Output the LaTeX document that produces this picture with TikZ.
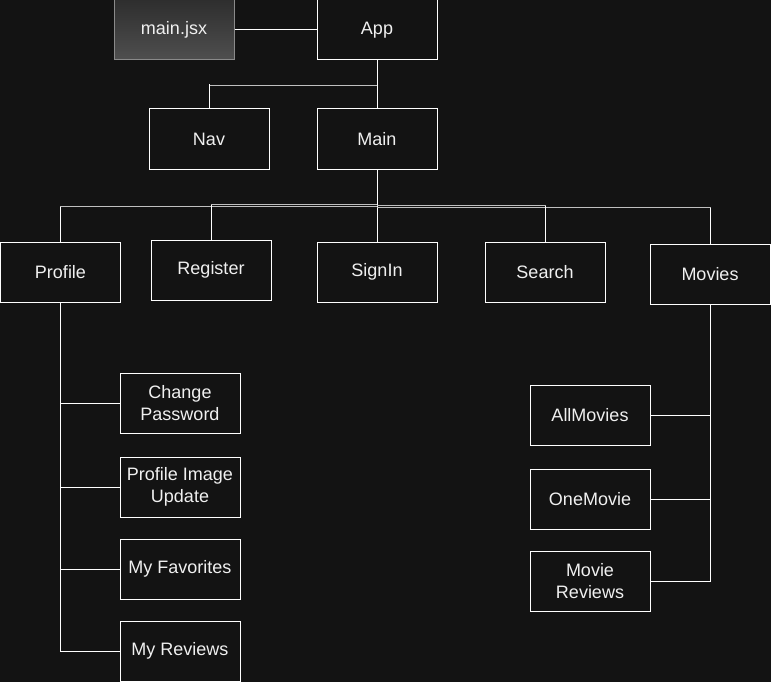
\documentclass[tikz,border=0pt]{standalone}
\usepackage{fontspec}
\setmainfont{Liberation Sans}
\definecolor{bg}{HTML}{131313}
\definecolor{jsxtop}{HTML}{2E2E2E}
\definecolor{jsxbot}{HTML}{4F4F4F}
\definecolor{jsxline}{HTML}{8A8A8A}
\definecolor{txt}{HTML}{F0F0F0}
\begin{document}
\begin{tikzpicture}[x=1pt,y=-1pt,
  box/.style={draw=white, fill=bg, line width=1pt, minimum width=120pt, minimum height=60pt,
    inner sep=0pt, align=center, text=txt, font=\fontsize{18}{21.6}\selectfont},
  jsxbox/.style={box, draw=jsxline, top color=jsxtop, bottom color=jsxbot},
  link/.style={draw=white, line width=1pt},
  hlink/.style={draw=white!75!black, line width=1pt}]
\fill[bg] (0,0) rectangle (771,682);
\useasboundingbox (0,0) rectangle (771,682);

\node[jsxbox] (mainjsx) at (174,30) {main.jsx};
\node[box] (app) at (377,30) {App};
\node[box] (nav) at (209,139) {Nav};
\node[box] (main) at (377,139) {Main};
\node[box] (profile) at (60.5,272) {Profile};
\node[box] (register) at (211,270) {Register};
\node[box] (signin) at (377,272) {SignIn};
\node[box] (search) at (545,272) {Search};
\node[box] (movies) at (710,274) {Movies};
\node[box] (cp) at (180,403) {Change\\Password};
\node[box] (piu) at (180,487) {Profile Image\\Update};
\node[box] (mf) at (180,569) {My Favorites};
\node[box] (mr) at (180,651) {My Reviews};
\node[box] (am) at (590,415) {AllMovies};
\node[box] (om) at (590,499) {OneMovie};
\node[box] (mrv) at (590,581) {Movie\\Reviews};

\begin{scope}[on background layer/.try]
\end{scope}
\draw[link] (mainjsx.east) -- (app.west);
\draw[link] (app.south) -- (main.north);
\draw[hlink] (app.south) ++(0,25) -| (nav.north);
\draw[link] (nav.north) -- ++(0,-24);
\draw[link] (main.south) -- ++(0,36);
\draw[hlink] (main.south) ++(0,37) -| (profile.north);
\draw[hlink] (main.south) ++(0,35) -| (register.north);
\draw[link] (main.south) -- (signin.north);
\draw[hlink] (main.south) ++(0,36) -| (search.north);
\draw[hlink] (main.south) ++(0,38) -| (movies.north);
\draw[link] (profile.north) -- ++(0,-35);
\draw[link] (register.north) -- ++(0,-35);
\draw[link] (search.north) -- ++(0,-36);
\draw[link] (movies.north) -- ++(0,-36);
\draw[link] (profile.south) |- (cp.west);
\draw[link] (profile.south) |- (piu.west);
\draw[link] (profile.south) |- (mf.west);
\draw[link] (profile.south) |- (mr.west);
\draw[link] (movies.south) |- (am.east);
\draw[link] (movies.south) |- (om.east);
\draw[link] (movies.south) |- (mrv.east);
\end{tikzpicture}
\end{document}
